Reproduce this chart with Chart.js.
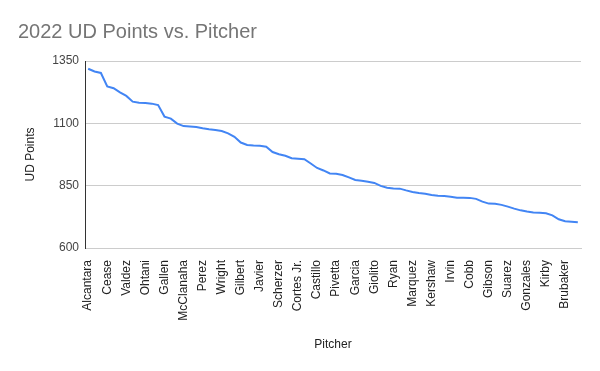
<!DOCTYPE html>
<html>
<head>
<meta charset="utf-8">
<script src="https://cdn.jsdelivr.net/npm/chart.js@4/dist/chart.umd.min.js"></script>
<style>
  html, body { margin: 0; padding: 0; background: #fff; }
  #wrap { width: 600px; height: 371px; }
</style>
</head>
<body>
<div id="wrap"><canvas id="chart" width="600" height="371"></canvas></div>
<script>
// every third pitcher is labelled on the axis, the rest sit between
const pitchers = [
  "Alcantara", "Burnes", "Cole", "Cease", "Nola", "Verlander", "Valdez", "Gausman", "Musgrove",
  "Ohtani", "Urias", "Wheeler", "Gallen", "Fried", "Manoah", "McClanaha", "Webb", "Darvish",
  "Perez", "Snell", "Rodon", "Wright", "Bassitt", "Lynn", "Gilbert", "Gray", "Keller",
  "Javier", "Ray", "Montas", "Scherzer", "Lodolo", "Bieber", "Cortes Jr.", "Eovaldi", "Kikuchi",
  "Castillo", "McCullers", "Stroman", "Pivetta", "Bundy", "Manaea", "Garcia", "Civale", "Quintana",
  "Giolito", "Wainwright", "Mikolas", "Ryan", "Kluber", "Lyles", "Marquez", "Anderson", "Heaney",
  "Kershaw", "Sale", "Berrios", "Irvin", "Urquidy", "Houck", "Cobb", "Lopez", "Rasmussen",
  "Gibson", "Gore", "Freeland", "Suarez", "Keuchel", "Greinke", "Gonzales", "Corbin", "Detmers",
  "Kirby", "Steele", "Bradish", "Brubaker", "Kremer", "Wacha",
];

const udPoints = [
  1319, 1308, 1302, 1248, 1241, 1224, 1210, 1187, 1183, 1182, 1179, 1173, 1127, 1119, 1099, 1089,
  1087, 1085, 1080, 1076, 1073, 1069, 1060, 1046, 1023, 1013, 1011, 1010, 1006, 985, 976, 970,
  960, 958, 956, 939, 921, 911, 899, 898, 893, 883, 873, 870, 866, 861, 849, 842,
  839, 838, 831, 825, 821, 818, 813, 810, 809, 806, 802, 802, 801, 797, 786, 778,
  777, 773, 766, 758, 751, 746, 742, 741, 739, 731, 715, 707, 705, 703,
];

const yTicks = [600, 850, 1100, 1350];

const FONT = "'Liberation Sans', Arial, sans-serif";
Chart.defaults.font.family = FONT;

new Chart(document.getElementById("chart"), {
  type: "line",
  data: {
    labels: pitchers,
    datasets: [
      {
        label: "UD Points",
        data: udPoints,
        borderColor: "#4285f4",
        backgroundColor: "#4285f4",
        borderWidth: 2,
        pointRadius: 0,
        tension: 0,
        fill: false,
      },
    ],
  },
  options: {
    responsive: false,
    animation: false,
    layout: { padding: { left: 18, right: 19, top: 0, bottom: 0 } },
    plugins: {
      legend: { display: false },
      tooltip: { enabled: false },
      title: {
        display: true,
        text: "2022 UD Points vs. Pitcher",
        align: "start",
        color: "#757575",
        font: { size: 20, weight: "normal", family: FONT },
        padding: { top: 20, bottom: 17 },
      },
    },
    scales: {
      x: {
        offset: true,
        grid: { display: false },
        border: { display: true, color: "#cccccc" },
        ticks: {
          autoSkip: false,
          maxRotation: 90,
          minRotation: 90,
          padding: 4,
          color: "#222222",
          font: { size: 12 },
          callback: function (value, index) {
            return index % 3 === 0 ? this.getLabelForValue(value) : "";
          },
        },
        title: {
          display: true,
          text: "Pitcher",
          color: "#222222",
          font: { size: 12 },
          padding: { top: 4, bottom: 19 },
        },
        afterFit: (scale) => { scale.height = 123; },
      },
      y: {
        min: yTicks[0],
        max: yTicks[yTicks.length - 1],
        afterBuildTicks: (scale) => { scale.ticks = yTicks.map((v) => ({ value: v })); },
        grid: { color: "#cccccc", drawTicks: false },
        border: { display: true, color: "#333333", width: 1 },
        ticks: {
          padding: 6,
          color: "#444444",
          font: { size: 12 },
          callback: (value) => String(value),
        },
        title: {
          display: true,
          text: "UD Points",
          color: "#222222",
          font: { size: 12 },
          padding: { top: 5, bottom: 0 },
        },
        afterFit: (scale) => { scale.width = 67; },
      },
    },
  },
});
</script>
</body>
</html>
